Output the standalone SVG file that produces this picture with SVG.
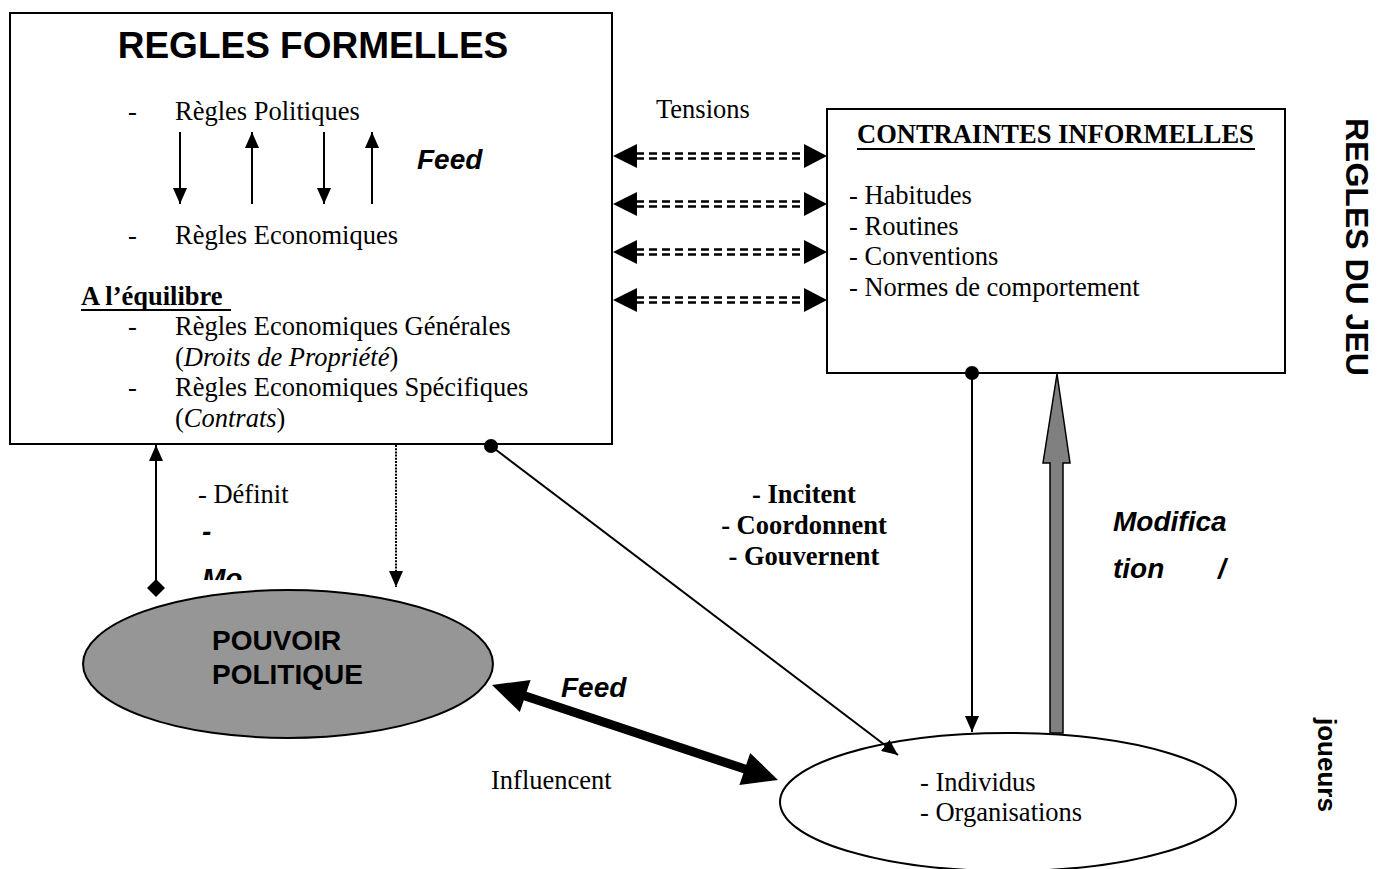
<svg xmlns="http://www.w3.org/2000/svg" width="1380" height="869" viewBox="0 0 1380 869">
<defs>
<style>
.t{font-family:"Liberation Serif","Times New Roman",serif;font-size:26.5px;fill:#000}
.tb{font-family:"Liberation Serif","Times New Roman",serif;font-size:26.5px;font-weight:bold;fill:#000}
.a{font-family:"Liberation Sans",Arial,sans-serif;font-weight:bold;fill:#000}
.ai{font-family:"Liberation Sans",Arial,sans-serif;font-weight:bold;font-style:italic;fill:#000}
.box{fill:#fff;stroke:#000;stroke-width:2}
.ln{stroke:#000;stroke-width:2;fill:none}
.dl{stroke:#000;stroke-width:2.5;stroke-dasharray:8 5;fill:none}
.hd{fill:#000}
</style>
<marker id="ah" viewBox="0 0 16 14" refX="16" refY="7" markerWidth="16" markerHeight="14" markerUnits="userSpaceOnUse" orient="auto">
<path d="M0,0L16,7L0,14z" fill="#000"/>
</marker>
<clipPath id="clipMo"><rect x="190" y="515" width="160" height="65"/></clipPath>
</defs>
<rect width="1380" height="869" fill="#fff"/>

<g id="regles-formelles">
<rect class="box" x="10" y="13" width="602" height="431"/>
<text class="a" x="313" y="58" font-size="37" text-anchor="middle">REGLES FORMELLES</text>
<text class="t" x="128" y="120">-</text>
<text class="t" x="175" y="120">Règles Politiques</text>
<line class="ln" x1="180" y1="132" x2="180" y2="204" marker-end="url(#ah)"/>
<line class="ln" x1="252" y1="204" x2="252" y2="132" marker-end="url(#ah)"/>
<line class="ln" x1="324" y1="132" x2="324" y2="204" marker-end="url(#ah)"/>
<line class="ln" x1="372" y1="204" x2="372" y2="132" marker-end="url(#ah)"/>
<text class="ai" x="417" y="169" font-size="28">Feed</text>
<text class="t" x="128" y="244">-</text>
<text class="t" x="175" y="244">Règles Economiques</text>
<text class="tb" x="81" y="305">A l’équilibre</text>
<line x1="81" y1="310" x2="231" y2="310" stroke="#000" stroke-width="2"/>
<text class="t" x="128" y="335">-</text>
<text class="t" x="175" y="335">Règles Economiques Générales</text>
<text class="t" x="175" y="366">(<tspan font-style="italic">Droits de Propriété</tspan>)</text>
<text class="t" x="128" y="396">-</text>
<text class="t" x="175" y="396">Règles Economiques Spécifiques</text>
<text class="t" x="175" y="427">(<tspan font-style="italic">Contrats</tspan>)</text>
</g>

<g id="contraintes-informelles">
<rect class="box" x="827" y="109" width="458" height="264"/>
<text class="tb" x="857" y="143">CONTRAINTES INFORMELLES</text>
<line x1="857" y1="149" x2="1255" y2="149" stroke="#000" stroke-width="2"/>
<text class="t" x="849" y="204">- Habitudes</text>
<text class="t" x="849" y="235">- Routines</text>
<text class="t" x="849" y="265">- Conventions</text>
<text class="t" x="849" y="296">- Normes de comportement</text>
</g>

<g id="pouvoir-politique">
<ellipse cx="288" cy="664" rx="205" ry="74" fill="#969696" stroke="#000" stroke-width="2"/>
<text class="a" x="212" y="650" font-size="28">POUVOIR</text>
<text class="a" x="212" y="684" font-size="28">POLITIQUE</text>
</g>

<g id="individus-organisations">
<ellipse cx="1008" cy="802" rx="228" ry="69" fill="#fff" stroke="#000" stroke-width="2"/>
<text class="t" x="920" y="791">- Individus</text>
<text class="t" x="920" y="821">- Organisations</text>
</g>

<g id="connectors">
<g>
<line class="dl" x1="636" y1="153.5" x2="806" y2="153.5"/><line class="dl" x1="636" y1="158.5" x2="806" y2="158.5"/>
<polygon class="hd" points="613,156 637,144 637,168"/><polygon class="hd" points="827,156 804,144 804,168"/>
<line class="dl" x1="636" y1="201.5" x2="806" y2="201.5"/><line class="dl" x1="636" y1="206.5" x2="806" y2="206.5"/>
<polygon class="hd" points="613,204 637,192 637,216"/><polygon class="hd" points="827,204 804,192 804,216"/>
<line class="dl" x1="636" y1="249.5" x2="806" y2="249.5"/><line class="dl" x1="636" y1="254.5" x2="806" y2="254.5"/>
<polygon class="hd" points="613,252 637,240 637,264"/><polygon class="hd" points="827,252 804,240 804,264"/>
<line class="dl" x1="636" y1="297.5" x2="806" y2="297.5"/><line class="dl" x1="636" y1="302.5" x2="806" y2="302.5"/>
<polygon class="hd" points="613,300 637,288 637,312"/><polygon class="hd" points="827,300 804,288 804,312"/>
</g>
<line class="ln" x1="156" y1="580" x2="156" y2="445" marker-end="url(#ah)"/>
<polygon class="hd" points="156,579 165,588 156,597 147,588"/>
<line x1="396" y1="445" x2="396" y2="587" stroke="#000" stroke-width="2" stroke-dasharray="2 1.2" marker-end="url(#ah)"/>
<circle cx="491" cy="446" r="7" fill="#000"/>
<line class="ln" x1="491" y1="446" x2="898" y2="755" stroke-width="1.8" marker-end="url(#ah)"/>
<circle cx="972" cy="373" r="7" fill="#000"/>
<line class="ln" x1="972" y1="373" x2="972" y2="732" marker-end="url(#ah)"/>
<polygon points="1057,374 1070,463 1063,463 1063,733 1050,733 1050,463 1043,463" fill="#808080" stroke="#000" stroke-width="1.5"/>
<polygon class="hd" points="492,685 530.6,679.9 526.6,691.7 746.2,764.7 750.2,752.9 778,780 739.4,785.1 743.4,773.3 523.8,700.3 519.8,712.1"/>
</g>

<g id="labels">
<text class="t" x="656" y="118">Tensions</text>
<text class="t" x="198" y="503">- Définit</text>
<g clip-path="url(#clipMo)">
<text class="ai" x="202" y="541" font-size="28">-</text>
<text class="ai" x="202" y="588" font-size="28">Mo</text>
</g>
<text class="tb" x="804" y="503" text-anchor="middle">- Incitent</text>
<text class="tb" x="804" y="534" text-anchor="middle">- Coordonnent</text>
<text class="tb" x="804" y="565" text-anchor="middle">- Gouvernent</text>
<text class="ai" x="1113" y="531" font-size="28">Modifica</text>
<text class="ai" x="1113" y="578" font-size="28">tion</text>
<text class="ai" x="1218" y="578" font-size="28">/</text>
<text class="ai" x="561" y="697" font-size="28">Feed</text>
<text class="t" x="491" y="789">Influencent</text>
<text class="a" font-size="32" transform="translate(1346,118) rotate(90)">REGLES DU JEU</text>
<text class="a" font-size="26" transform="translate(1318,718) rotate(90)">joueurs</text>
</g>
</svg>
